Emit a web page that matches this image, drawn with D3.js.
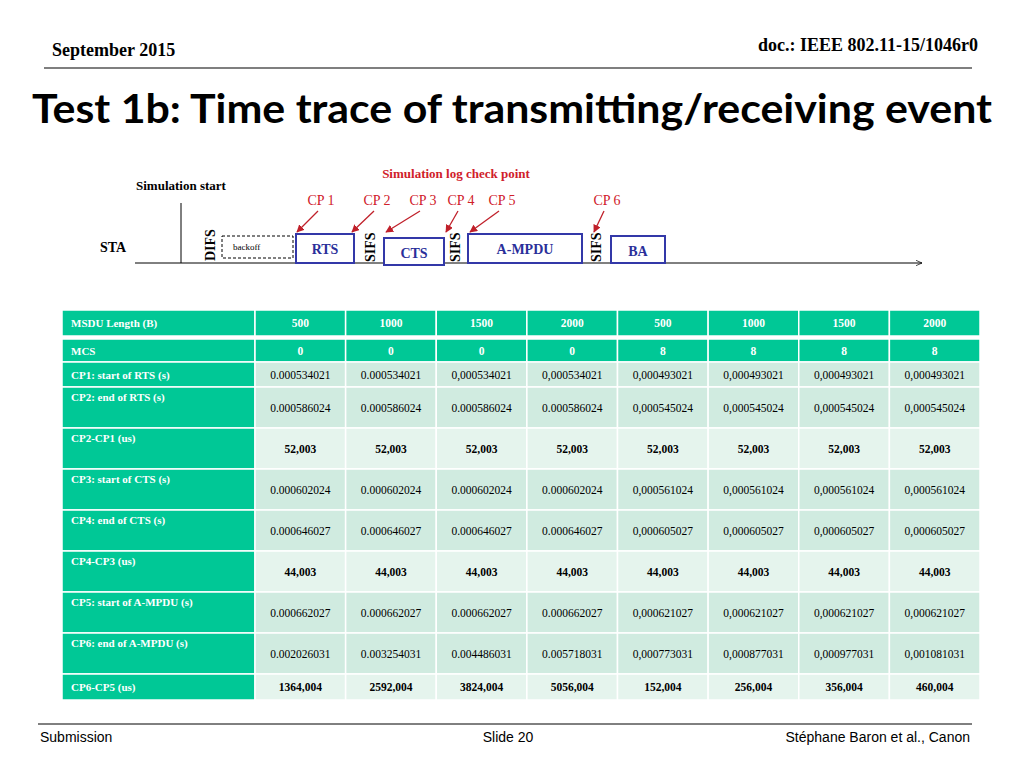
<!DOCTYPE html>
<html><head><meta charset="utf-8">
<script src="https://cdn.jsdelivr.net/npm/d3@7.9.0/dist/d3.min.js"></script>
<style>body{margin:0;background:#fff}svg{display:block}</style>
</head><body><svg id="slide" width="1024" height="768"></svg>
<script>
// Table data
const msduLength = ['500','1000','1500','2000','500','1000','1500','2000'];
const mcs = ['0','0','0','0','8','8','8','8'];
const rowLabels = ['CP1: start of RTS (s)','CP2: end of RTS (s)','CP2-CP1 (us)','CP3: start of CTS (s)',
  'CP4: end of CTS (s)','CP4-CP3 (us)','CP5: start of A-MPDU (s)','CP6: end of A-MPDU (s)','CP6-CP5 (us)'];
const cp1 = ['0.000534021','0.000534021','0,000534021','0,000534021','0,000493021','0,000493021','0,000493021','0,000493021'];
const cp2 = ['0.000586024','0.000586024','0.000586024','0.000586024','0,000545024','0,000545024','0,000545024','0,000545024'];
const cp2cp1 = ['52,003','52,003','52,003','52,003','52,003','52,003','52,003','52,003'];
const cp3 = ['0.000602024','0.000602024','0.000602024','0.000602024','0,000561024','0,000561024','0,000561024','0,000561024'];
const cp4 = ['0.000646027','0.000646027','0.000646027','0.000646027','0,000605027','0,000605027','0,000605027','0,000605027'];
const cp4cp3 = ['44,003','44,003','44,003','44,003','44,003','44,003','44,003','44,003'];
const cp5 = ['0.000662027','0.000662027','0.000662027','0.000662027','0,000621027','0,000621027','0,000621027','0,000621027'];
const cp6 = ['0.002026031','0.003254031','0.004486031','0.005718031','0,000773031','0,000877031','0,000977031','0,001081031'];
const cp6cp5 = ['1364,004','2592,004','3824,004','5056,004','152,004','256,004','356,004','460,004'];

// Diagram data (timeline units)
const frames = ['RTS','CTS','A-MPDU','BA'];
const frameSpans = [[296,354],[384,444],[468,582],[611,665]];
const gaps = ['DIFS','SIFS','SIFS','SIFS'];
const gapAt = [210,370,455,596];
const cpNames = ['CP1','CP2','CP3','CP4','CP5','CP6'];
const cpAt = [297,352,386,446,470,594];
const cpLabelAt = [321,377,423,461,502,607];

const svg = d3.select('#slide');
const serif = 'Liberation Serif, Times New Roman, serif';
const sans = 'Liberation Sans, Arial, sans-serif';

// Header / footer
svg.append('text').attr('x',52).attr('y',56).attr('font-family',serif).attr('font-weight','bold').attr('font-size',18).text('September 2015');
svg.append('text').attr('x',978).attr('y',51).attr('text-anchor','end').attr('font-family',serif).attr('font-weight','bold').attr('font-size',18).text('doc.: IEEE 802.11-15/1046r0');
svg.append('line').attr('x1',44).attr('x2',972).attr('y1',68).attr('y2',68).attr('stroke','#000').attr('stroke-width',1.2);
svg.append('text').attr('x',32).attr('y',123).attr('font-family','Lato, sans-serif').attr('font-weight','bold').attr('font-size',40)
  .attr('textLength',960).attr('lengthAdjust','spacingAndGlyphs').text('Test 1b: Time trace of transmitting/receiving event');
svg.append('line').attr('x1',38).attr('x2',972).attr('y1',724).attr('y2',724).attr('stroke','#000').attr('stroke-width',1);
[['Submission',40,'start'],['Slide 20',508,'middle'],['Stéphane Baron et al., Canon',970,'end']].forEach(([t,x,a]) =>
  svg.append('text').attr('x',x).attr('y',742).attr('text-anchor',a).attr('font-family',sans).attr('font-size',14).text(t));

// Diagram
const x = d3.scaleLinear().domain([0,1024]).range([0,1024]);
const d = svg.append('g');
svg.append('defs').append('marker').attr('id','ah').attr('viewBox','0 0 10 10').attr('refX',9).attr('refY',5)
  .attr('markerWidth',7).attr('markerHeight',7).attr('orient','auto')
  .append('path').attr('d','M0,1 L9,5 L0,9').attr('fill','none').attr('stroke','#000');
svg.select('defs').append('marker').attr('id','rh').attr('viewBox','0 0 10 10').attr('refX',9).attr('refY',5)
  .attr('markerWidth',6).attr('markerHeight',6).attr('orient','auto')
  .append('path').attr('d','M0,0 L10,5 L0,10 z').attr('fill','#c0202a');
d.append('line').attr('x1',x(135)).attr('x2',x(922)).attr('y1',263).attr('y2',263).attr('stroke','#000').attr('marker-end','url(#ah)');
d.append('line').attr('x1',x(181)).attr('x2',x(181)).attr('y1',203).attr('y2',263).attr('stroke','#000');
d.append('text').attr('x',136).attr('y',190).attr('font-family',serif).attr('font-weight','bold').attr('font-size',13).text('Simulation start');
d.append('text').attr('x',100).attr('y',252).attr('font-family',serif).attr('font-weight','bold').attr('font-size',14).text('STA');
d.append('text').attr('x',456).attr('y',178).attr('text-anchor','middle').attr('font-family',serif).attr('font-weight','bold')
  .attr('font-size',13).attr('fill','#d0202a').text('Simulation log check point');
d.append('rect').attr('x',x(222)).attr('y',236).attr('width',x(293)-x(222)).attr('height',22).attr('fill','none')
  .attr('stroke','#000').attr('stroke-dasharray','3,2');
d.append('text').attr('x',233).attr('y',250).attr('font-family',serif).attr('font-size',9).text('backoff');
const fy = [234,238,234,236];
frames.forEach((f,i) => {
  const [a,b] = frameSpans[i];
  d.append('rect').attr('x',x(a)).attr('y',fy[i]).attr('width',x(b)-x(a)).attr('height',263-fy[i]+(i===1?2:0))
    .attr('fill','#fff').attr('stroke','#3338a8').attr('stroke-width',2);
  d.append('text').attr('x',x((a+b)/2)).attr('y',fy[i]+20).attr('text-anchor','middle').attr('font-family',serif)
    .attr('font-weight','bold').attr('font-size',14).attr('fill','#2a2f9a').text(f);
});
gaps.forEach((g,i) => {
  d.append('text').attr('transform',`translate(${x(gapAt[i])+5},${i===0?261:262}) rotate(-90)`).attr('font-family',serif)
    .attr('font-weight','bold').attr('font-size',14).text(g);
});
cpNames.forEach((c,i) => {
  d.append('text').attr('x',x(cpLabelAt[i])).attr('y',205).attr('text-anchor','middle').attr('font-family',serif)
    .attr('font-size',14).attr('fill','#d0202a').text(c.replace('CP','CP '));
  d.append('line').attr('x1',x(cpLabelAt[i])-3).attr('y1',211).attr('x2',x(cpAt[i])).attr('y2',232)
    .attr('stroke','#c0202a').attr('stroke-width',1.3).attr('marker-end','url(#rh)');
});

// Table
const rows = [
  {label:'MSDU Length (B)', vals:msduLength, head:true},
  {label:'MCS', vals:mcs, head:true},
  {label:rowLabels[0], vals:cp1},
  {label:rowLabels[1], vals:cp2},
  {label:rowLabels[2], vals:cp2cp1, bold:true},
  {label:rowLabels[3], vals:cp3},
  {label:rowLabels[4], vals:cp4},
  {label:rowLabels[5], vals:cp4cp3, bold:true},
  {label:rowLabels[6], vals:cp5},
  {label:rowLabels[7], vals:cp6},
  {label:rowLabels[8], vals:cp6cp5, bold:true}
];
const rowTop = [310,339,362,387,428,469,510,551,592,633,674];
const rowBot = [336,362,387,428,469,510,551,592,633,674,700];
const colX = d3.scaleBand().domain(d3.range(8)).range([255,980]);
const t = svg.append('g');
rows.forEach((r,i) => {
  const y0 = rowTop[i], h = rowBot[i]-rowTop[i];
  t.append('rect').attr('x',62).attr('y',y0).attr('width',193).attr('height',h).attr('fill','#00c896')
    .attr('stroke','#fff').attr('stroke-width',1.5);
  t.append('text').attr('x',71).attr('y',y0+(h<30?h/2+4:14)).attr('font-family',serif).attr('font-weight','bold')
    .attr('font-size',11).attr('fill','#fff').text(r.label);
  r.vals.forEach((v,j) => {
    t.append('rect').attr('x',colX(j)).attr('y',y0).attr('width',colX.bandwidth()).attr('height',h)
      .attr('fill', r.head ? '#00c896' : (r.bold ? '#e5f4ed' : '#d0ebe0')).attr('stroke','#fff').attr('stroke-width',1.5);
    t.append('text').attr('x',colX(j)+colX.bandwidth()/2).attr('y',y0+h/2+4)
      .attr('text-anchor','middle').attr('font-family',serif).attr('font-size',11.5)
      .attr('font-weight', r.head||r.bold ? 'bold' : 'normal').attr('fill', r.head ? '#fff' : '#000').text(v);
  });
});
</script></body></html>
